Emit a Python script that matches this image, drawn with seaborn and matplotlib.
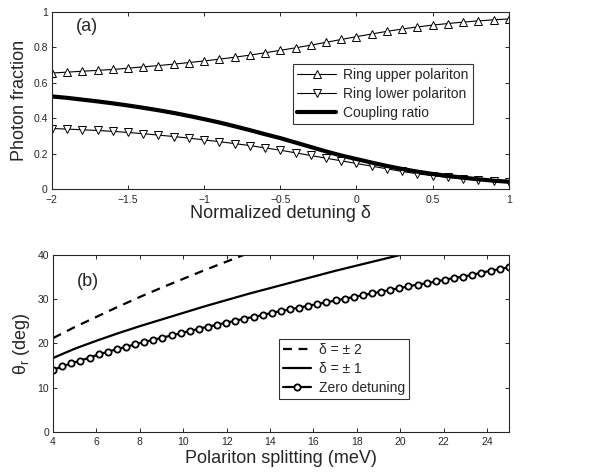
import matplotlib
matplotlib.use('Agg')
import matplotlib.pyplot as plt
import seaborn as sns
import numpy as np


# panel (a): photon fraction vs normalized detuning
detuning = [-2.0, -1.9, -1.8, -1.7, -1.6, -1.5, -1.4, -1.3, -1.2, -1.1, -1.0,
            -0.9, -0.8, -0.7, -0.6, -0.5, -0.4, -0.3, -0.2, -0.1, 0.0,
            0.1, 0.2, 0.3, 0.4, 0.5, 0.6, 0.7, 0.8, 0.9, 1.0]
upper_pol = [0.655, 0.660, 0.665, 0.670, 0.675, 0.682, 0.690, 0.697, 0.705, 0.714, 0.723,
             0.733, 0.744, 0.756, 0.769, 0.783, 0.797, 0.812, 0.828, 0.844, 0.860,
             0.875, 0.890, 0.903, 0.915, 0.925, 0.934, 0.942, 0.949, 0.955, 0.960]
lower_pol = [0.342, 0.339, 0.335, 0.331, 0.326, 0.320, 0.313, 0.305, 0.297, 0.288, 0.278,
             0.268, 0.257, 0.246, 0.233, 0.220, 0.205, 0.190, 0.175, 0.160, 0.145,
             0.130, 0.115, 0.100, 0.087, 0.076, 0.066, 0.058, 0.051, 0.045, 0.040]
coupling = [0.523, 0.515, 0.505, 0.495, 0.484, 0.472, 0.459, 0.445, 0.430, 0.413, 0.395,
            0.376, 0.355, 0.333, 0.310, 0.288, 0.263, 0.238, 0.213, 0.190, 0.170,
            0.150, 0.131, 0.114, 0.099, 0.086, 0.075, 0.065, 0.056, 0.048, 0.042]

# panel (b): resonance angle vs polariton splitting
split_d2 = [4, 5, 6, 7, 8, 9, 10, 11, 12, 13]
theta_d2 = [21.2, 23.7, 26.0, 28.3, 30.5, 32.6, 34.6, 36.6, 38.5, 40.4]
split_d1 = [4, 5, 6, 7, 8, 9, 10, 11, 12, 13, 14, 15, 16, 17, 18, 19, 20]
theta_d1 = [16.7, 18.8, 20.6, 22.3, 23.9, 25.4, 26.9, 28.4, 29.8, 31.2, 32.5,
            33.8, 35.1, 36.4, 37.6, 38.8, 40.0]
split_d0 = np.linspace(4, 25, 51)
theta_d0 = [14.0, 14.8, 15.5, 16.1, 16.8, 17.5, 18.1, 18.7, 19.2, 19.8,
            20.3, 20.8, 21.3, 21.8, 22.3, 22.8, 23.3, 23.8, 24.2, 24.7,
            25.1, 25.6, 26.0, 26.4, 26.9, 27.3, 27.7, 28.1, 28.5, 28.9,
            29.3, 29.7, 30.1, 30.5, 30.9, 31.3, 31.7, 32.1, 32.5, 32.9,
            33.3, 33.6, 34.0, 34.4, 34.8, 35.1, 35.5, 36.0, 36.4, 36.8, 37.2]

sns.set_style('ticks')
plt.rcParams['font.family'] = ['Liberation Sans', 'DejaVu Sans']

fig = plt.figure(figsize=(6.1, 4.73), dpi=100)
ax1 = fig.add_axes([0.085, 0.600, 0.749, 0.375])
ax2 = fig.add_axes([0.087, 0.087, 0.747, 0.374])

# top panel
sns.lineplot(x=detuning, y=upper_pol, ax=ax1, color='black', lw=0.8, marker='^',
             markersize=5.5, markerfacecolor='white', markeredgecolor='black',
             markeredgewidth=0.7, label='Ring upper polariton')
sns.lineplot(x=detuning, y=lower_pol, ax=ax1, color='black', lw=0.8, marker='v',
             markersize=5.5, markerfacecolor='white', markeredgecolor='black',
             markeredgewidth=0.7, label='Ring lower polariton')
sns.lineplot(x=detuning, y=coupling, ax=ax1, color='black', lw=3,
             label='Coupling ratio')
ax1.set_xlim(-2, 1)
ax1.set_ylim(0, 1)
ax1.set_xticks([-2, -1.5, -1, -0.5, 0, 0.5, 1])
ax1.set_xticklabels(['\u22122', '\u22121.5', '\u22121', '\u22120.5', '0', '0.5', '1'])
ax1.set_yticks([0, 0.2, 0.4, 0.6, 0.8, 1])
ax1.set_yticklabels(['0', '0.2', '0.4', '0.6', '0.8', '1'])
ax1.set_xlabel('Normalized detuning \u03b4', fontsize=13, labelpad=0)
ax1.set_ylabel('Photon fraction', fontsize=13, labelpad=4)
ax1.text(-1.84, 0.915, '(a)', fontsize=13, va='center', ha='left')
leg1 = ax1.legend(loc='upper left', bbox_to_anchor=(0.528, 0.705), fontsize=10,
                  frameon=True, fancybox=False, edgecolor='black',
                  handlelength=2.8, borderpad=0.3, labelspacing=0.35,
                  handletextpad=0.5, borderaxespad=0)
leg1.get_frame().set_linewidth(0.8)

# bottom panel
sns.lineplot(x=split_d2, y=theta_d2, ax=ax2, color='black', lw=1.6,
             linestyle=(0, (4, 3)), label='\u03b4 = \u00b1 2')
sns.lineplot(x=split_d1, y=theta_d1, ax=ax2, color='black', lw=1.6,
             label='\u03b4 = \u00b1 1')
sns.lineplot(x=split_d0, y=theta_d0, ax=ax2, color='black', lw=1.6, marker='o',
             markersize=4.5, markerfacecolor='white', markeredgecolor='black',
             markeredgewidth=1.3, label='Zero detuning')
ax2.set_xlim(4, 25)
ax2.set_ylim(0, 40)
ax2.set_xticks(range(4, 26, 2))
ax2.set_yticks(range(0, 41, 10))
ax2.set_xlabel('Polariton splitting (meV)', fontsize=13, labelpad=2)
ax2.set_ylabel('\u03b8$_\\mathregular{r}$ (deg)', fontsize=13, labelpad=4)
ax2.text(5.1, 33.9, '(b)', fontsize=13, va='center', ha='left')
leg2 = ax2.legend(loc='upper left', bbox_to_anchor=(0.495, 0.525), fontsize=10,
                  frameon=True, fancybox=False, edgecolor='black',
                  handlelength=2.0, borderpad=0.3, labelspacing=0.35,
                  handletextpad=0.6, borderaxespad=0)
leg2.get_frame().set_linewidth(0.8)

for ax in (ax1, ax2):
    ax.tick_params(direction='in', top=True, right=True, labelsize=7.5,
                   length=3, width=0.7)
    ax.tick_params(axis='x', pad=4)
    ax.tick_params(axis='y', pad=3)
    for s in ax.spines.values():
        s.set_linewidth(0.8)
        s.set_visible(True)

fig.savefig('out.png', dpi=100)
